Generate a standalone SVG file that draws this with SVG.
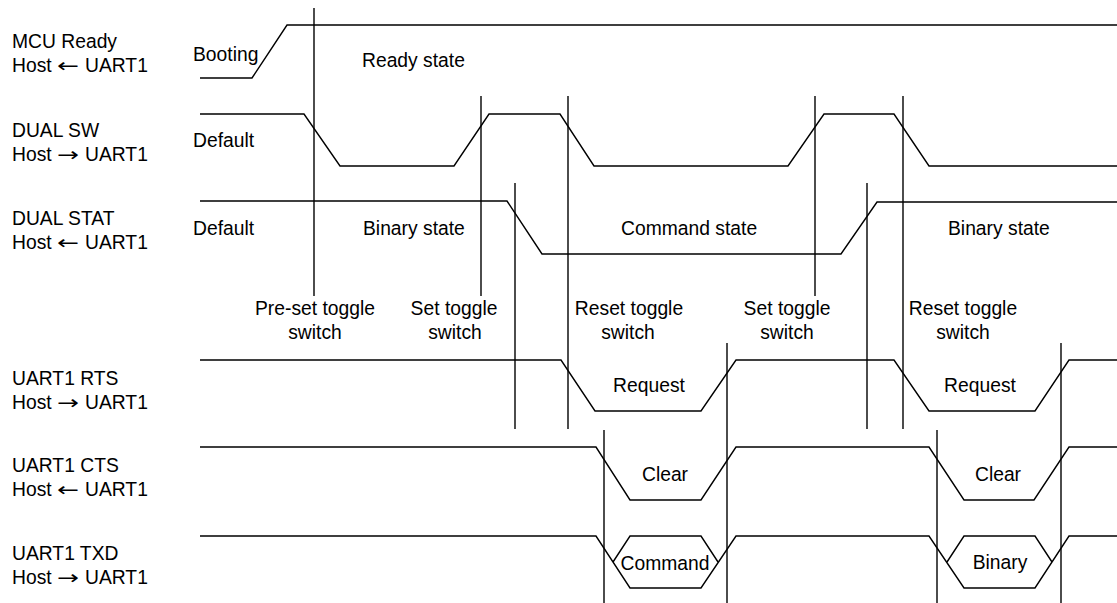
<svg xmlns="http://www.w3.org/2000/svg" width="1117" height="603" viewBox="0 0 1117 603">
<style>
text{font-family:"Liberation Sans",Arial,sans-serif;font-size:19.3px;fill:#000}
.m{text-anchor:middle}
.ar{font-family:"DejaVu Sans",sans-serif;font-size:19px}
.sig{fill:none;stroke:#000;stroke-width:1.4;stroke-linejoin:miter}
.vl{stroke:#000;stroke-width:1.4;fill:none}
</style>
<rect width="1117" height="603" fill="#fff"/>
<g id="labels">
<text x="12" y="48">MCU Ready</text>
<text x="12" y="72">Host<tspan class="ar" x="57" textLength="22" lengthAdjust="spacingAndGlyphs">←</tspan><tspan x="85">UART1</tspan></text>
<text x="12" y="137">DUAL SW</text>
<text x="12" y="161">Host<tspan class="ar" x="57" textLength="22" lengthAdjust="spacingAndGlyphs">→</tspan><tspan x="85">UART1</tspan></text>
<text x="12" y="225">DUAL STAT</text>
<text x="12" y="249">Host<tspan class="ar" x="57" textLength="22" lengthAdjust="spacingAndGlyphs">←</tspan><tspan x="85">UART1</tspan></text>
<text x="12" y="385">UART1 RTS</text>
<text x="12" y="409">Host<tspan class="ar" x="57" textLength="22" lengthAdjust="spacingAndGlyphs">→</tspan><tspan x="85">UART1</tspan></text>
<text x="12" y="472">UART1 CTS</text>
<text x="12" y="496">Host<tspan class="ar" x="57" textLength="22" lengthAdjust="spacingAndGlyphs">←</tspan><tspan x="85">UART1</tspan></text>
<text x="12" y="560">UART1 TXD</text>
<text x="12" y="584">Host<tspan class="ar" x="57" textLength="22" lengthAdjust="spacingAndGlyphs">→</tspan><tspan x="85">UART1</tspan></text>
</g>
<g id="mcu-ready">
<path class="sig" d="M200,78 L252,78 L287,25 L1117,25"/>
<text x="193" y="61">Booting</text>
<text x="362" y="67">Ready state</text>
</g>
<g id="dual-sw">
<path class="sig" d="M200,114 L304,114 L340,166 L454,166 L489,114 L560,114 L594,166 L788,166 L824,114 L894,114 L929,166 L1117,166"/>
<text x="193" y="147">Default</text>
</g>
<g id="dual-stat">
<path class="sig" d="M200,201 L507,201 L542,254 L841,254 L877,202 L1117,202"/>
<text x="193" y="235">Default</text>
<text x="363" y="235">Binary state</text>
<text x="621" y="235">Command state</text>
<text x="948" y="235">Binary state</text>
</g>
<g id="toggle-labels">
<text class="m" x="315" y="315">Pre-set toggle</text>
<text class="m" x="315" y="339">switch</text>
<text class="m" x="454" y="315">Set toggle</text>
<text class="m" x="455" y="339">switch</text>
<text class="m" x="629" y="315">Reset toggle</text>
<text class="m" x="628" y="339">switch</text>
<text class="m" x="787" y="315">Set toggle</text>
<text class="m" x="787" y="339">switch</text>
<text class="m" x="963" y="315">Reset toggle</text>
<text class="m" x="963" y="339">switch</text>
</g>
<g id="uart1-rts">
<path class="sig" d="M200,360 L561,360 L595,411 L701,411 L736,360 L894,360 L929,411 L1035,411 L1069,360 L1117,360"/>
<text class="m" x="649" y="392">Request</text>
<text class="m" x="980" y="392">Request</text>
</g>
<g id="uart1-cts">
<path class="sig" d="M200,447 L596,447 L630,500 L701,500 L736,447 L929,447 L964,500 L1034,500 L1069,447 L1117,447"/>
<text class="m" x="665" y="481">Clear</text>
<text class="m" x="998" y="481">Clear</text>
</g>
<g id="uart1-txd">
<path class="sig" d="M200,536 L596,536 L630,588 L701,588 L736,536 L929,536 L964,588 L1035,588 L1069,536 L1117,536"/>
<path class="sig" d="M613,562 L630,536 L701,536 L718,562"/>
<path class="sig" d="M947,562 L964,536 L1035,536 L1052,562"/>
<text class="m" x="665" y="570">Command</text>
<text class="m" x="1000" y="569">Binary</text>
</g>
<g id="connectors">
<line class="vl" x1="314" y1="8" x2="314" y2="296"/>
<line class="vl" x1="481" y1="96" x2="481" y2="296"/>
<line class="vl" x1="815" y1="96" x2="815" y2="296"/>
<line class="vl" x1="568" y1="96" x2="568" y2="429"/>
<line class="vl" x1="903" y1="96" x2="903" y2="429"/>
<line class="vl" x1="515" y1="183" x2="515" y2="429"/>
<line class="vl" x1="867" y1="183" x2="867" y2="429"/>
<line class="vl" x1="604" y1="430" x2="604" y2="603"/>
<line class="vl" x1="937" y1="430" x2="937" y2="603"/>
<line class="vl" x1="727" y1="343" x2="727" y2="603"/>
<line class="vl" x1="1061" y1="343" x2="1061" y2="603"/>
</g>
</svg>
